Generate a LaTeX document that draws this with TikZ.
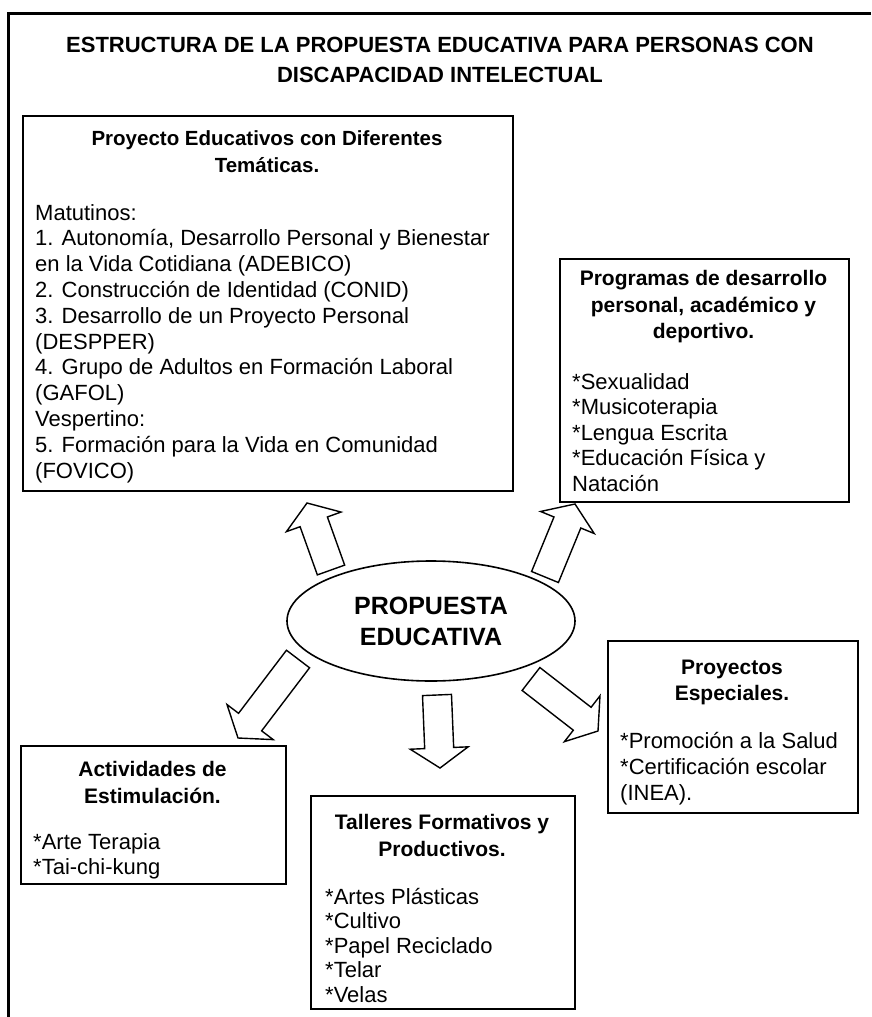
\documentclass[tikz,border=0pt]{standalone}
\usepackage{fontspec}
\setmainfont{Liberation Sans}
\usetikzlibrary{calc,shapes.geometric}
\tikzset{
  box/.style={draw, line width=1.6pt, inner sep=0pt, anchor=north west},
  heading/.style={font=\bfseries\fontsize{21}{26.5}\selectfont, align=center, anchor=north, inner sep=0pt},
  body/.style={font=\fontsize{22}{25.8}\selectfont, align=left, anchor=north west, inner sep=0pt},
  fat/.style={draw, line width=1.4pt, line join=miter, fill=white},
  frame/.style={line width=3pt},
}
\newcommand{\fatarr}[2]{%
  \coordinate (hb) at ($(#2)!20pt!(#1)$);
  \draw[fat] ($(#1)!14.5pt!90:(#2)$) -- ($(hb)!14.5pt!90:(#2)$) -- ($(hb)!29pt!90:(#2)$)
    -- (#2) -- ($(hb)!29pt!-90:(#2)$) -- ($(hb)!14.5pt!-90:(#2)$) -- ($(#1)!14.5pt!-90:(#2)$) -- cycle;}
\begin{document}
\begin{tikzpicture}[x=1pt,y=-1pt]
\useasboundingbox (0,0) rectangle (871,1017);
% frame (cropped: top and left sides only)
\draw[frame] (871,13) -- (8,13) -- (8,1017);
% title
\node[font=\bfseries\fontsize{22}{30}\selectfont, align=center, anchor=north, inner sep=0pt] (title) at (440,37)
  {ESTRUCTURA DE LA PROPUESTA EDUCATIVA PARA PERSONAS CON\\DISCAPACIDAD INTELECTUAL};
% box 1
\node[box, minimum width=490pt, minimum height=375pt] (b1) at (22,115) {};
\node[heading, font=\bfseries\fontsize{20.5}{26.5}\selectfont] (h1) at (267,130.5) {Proyecto Educativos con Diferentes\\Temáticas.};
\node[body] (t1) at (35,204) {Matutinos:\\1. Autonomía, Desarrollo Personal y Bienestar\\en la Vida Cotidiana (ADEBICO)\\2. Construcción de Identidad (CONID)\\3. Desarrollo de un Proyecto Personal\\(DESPPER)\\4. Grupo de Adultos en Formación Laboral\\(GAFOL)\\Vespertino:\\5. Formación para la Vida en Comunidad\\(FOVICO)};
% box 2
\node[box, minimum width=289pt, minimum height=243pt] (b2) at (559,258) {};
\node[heading] (h2) at (703.5,270.5) {Programas de desarrollo\\personal, académico y\\deportivo.};
\node[body, font=\fontsize{22}{25.5}\selectfont] (t2) at (572,373) {*Sexualidad\\*Musicoterapia\\*Lengua Escrita\\*Educación Física y\\Natación};
% box 3
\node[box, minimum width=250pt, minimum height=172pt] (b3) at (607,640) {};
\node[heading] (h3) at (732,659.5) {Proyectos\\Especiales.};
\node[body] (t3) at (620,732) {*Promoción a la Salud\\*Certificación escolar\\(INEA).};
% box 4
\node[box, minimum width=265pt, minimum height=138pt] (b4) at (20,745) {};
\node[heading] (h4) at (152.5,761.5) {Actividades de\\Estimulación.};
\node[body] (t4) at (33,833) {*Arte Terapia\\*Tai-chi-kung};
% box 5
\node[box, minimum width=264pt, minimum height=213pt] (b5) at (310,795) {};
\node[heading] (h5) at (442,814.5) {Talleres Formativos y\\Productivos.};
\node[body, font=\fontsize{22}{24.5}\selectfont] (t5) at (325,888) {*Artes Plásticas\\*Cultivo\\*Papel Reciclado\\*Telar\\*Velas};
% central ellipse
\node[ellipse, draw, line width=1.6pt, minimum width=288pt, minimum height=120pt, inner sep=0pt,
      font=\bfseries\fontsize{25}{31}\selectfont, align=center] (core) at (431,621) {PROPUESTA\\EDUCATIVA};
% block arrows
\coordinate (a1s) at (331,570); \coordinate (a1e) at (307,503);
\coordinate (a2s) at (545,577); \coordinate (a2e) at (575,504);
\coordinate (a3s) at (437,695); \coordinate (a3e) at (440,768);
\coordinate (a4s) at (531,679); \coordinate (a4e) at (598,731);
\coordinate (a5s) at (298,659); \coordinate (a5e) at (238,738);
\fatarr{a1s}{a1e}
\fatarr{a2s}{a2e}
\fatarr{a3s}{a3e}
\fatarr{a4s}{a4e}
\fatarr{a5s}{a5e}
\end{tikzpicture}
\end{document}
